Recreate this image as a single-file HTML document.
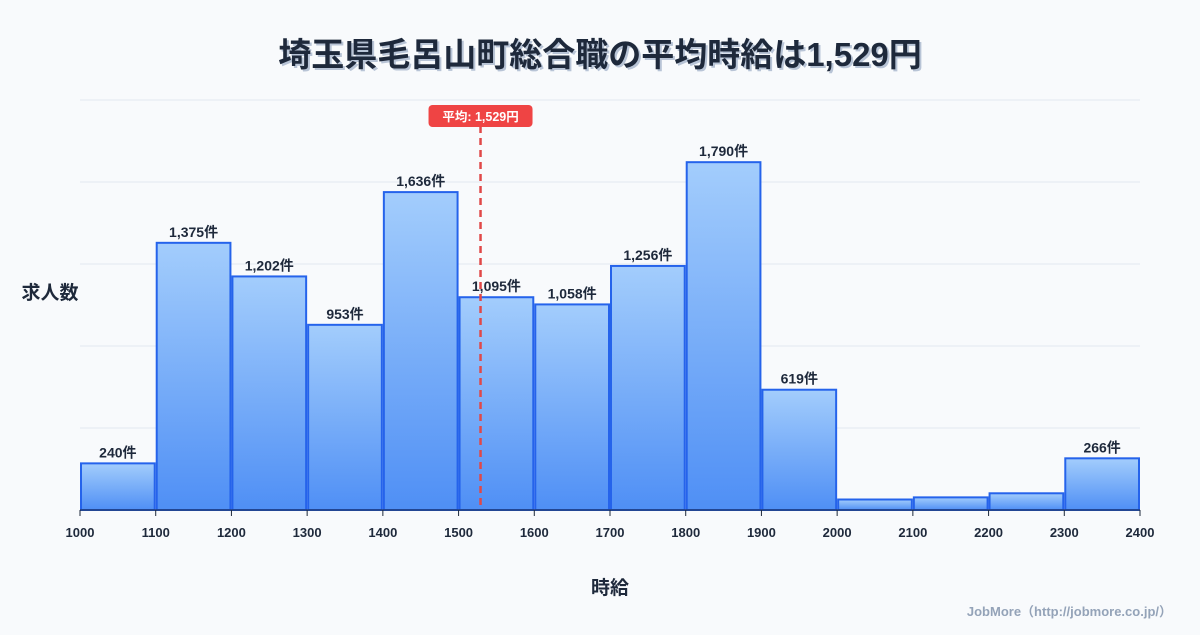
<!DOCTYPE html>
<html><head><meta charset="utf-8"><style>
body{margin:0;width:1200px;height:630px;background:#f8fafc;font-family:"Liberation Sans","Noto Sans CJK JP",sans-serif;overflow:hidden}
</style></head><body>
<svg width="1200" height="630" id="c" xmlns="http://www.w3.org/2000/svg">
<defs><linearGradient id="g" x1="0" y1="0" x2="0" y2="1"><stop offset="0" stop-color="#a3cdfc"/><stop offset="1" stop-color="#4f8ff5"/></linearGradient></defs>
<text x="600" y="66" text-anchor="middle" font-size="33" font-weight="bold" fill="#b8c4d6" font-family="Liberation Sans, Noto Sans CJK JP, sans-serif" transform="translate(2,2)">埼玉県毛呂山町総合職の平均時給は1,529円</text>
<text x="600" y="66" text-anchor="middle" font-size="33" font-weight="bold" fill="#1e293b" font-family="Liberation Sans, Noto Sans CJK JP, sans-serif">埼玉県毛呂山町総合職の平均時給は1,529円</text>
<g id="grid"></g><g id="bars"></g><g id="ticks"></g>
<text x="50" y="299" text-anchor="middle" font-size="19" font-weight="bold" fill="#1e293b">求人数</text>
<text x="610" y="594" text-anchor="middle" font-size="19" font-weight="bold" fill="#1e293b">時給</text>
<text x="1172" y="616" text-anchor="end" font-size="13" font-weight="bold" fill="#94a3b8">JobMore（http://jobmore.co.jp/）</text>
</svg>
<script>
const binStarts=[1000,1100,1200,1300,1400,1500,1600,1700,1800,1900,2000,2100,2200,2300];
const counts=[240,1375,1202,953,1636,1095,1058,1256,1790,619,54,65,86,266];
const showLabel=[true,true,true,true,true,true,true,true,true,true,false,false,false,true];
const xTicks=[1000,1100,1200,1300,1400,1500,1600,1700,1800,1900,2000,2100,2200,2300,2400];
const meanValue=1529;
const X0=80,X1=1140,Y0=510,Y1=100,XMIN=1000,XMAX=2400,YMAX=2110;
const sx=v=>X0+(v-XMIN)/(XMAX-XMIN)*(X1-X0);
const sy=v=>Y0-v/YMAX*(Y0-Y1);
const NS="http://www.w3.org/2000/svg";
function mk(t,a,p){const e=document.createElementNS(NS,t);for(const k in a)e.setAttribute(k,a[k]);p.appendChild(e);return e;}
const grid=document.getElementById('grid'),bars=document.getElementById('bars'),ticks=document.getElementById('ticks');
for(let i=0;i<=5;i++){const y=Y0-i*(Y0-Y1)/5;const l=mk('line',{x1:X0,x2:X1,y1:y,y2:y,stroke:'#e2e8f0','stroke-width':1},grid);

}
binStarts.forEach((b,i)=>{const x=sx(b)+1,w=sx(b+100)-sx(b)-2,y=sy(counts[i]);
const r=mk('rect',{x:x,y:y,width:w,height:Y0-y,fill:'url(#g)',stroke:'#2563eb','stroke-width':2},bars);


if(showLabel[i]){const t=mk('text',{x:x+w/2,y:y-6,'text-anchor':'middle','font-size':14,'font-weight':'bold',fill:'#1e293b'},bars);t.textContent=counts[i].toLocaleString('en-US')+'件';

}});
mk('line',{x1:X0,x2:X1,y1:Y0,y2:Y0,stroke:'#1e293b','stroke-width':1},ticks);
xTicks.forEach(v=>{const x=sx(v);mk('line',{x1:x,x2:x,y1:Y0,y2:Y0+6,stroke:'#1e293b'},ticks);
const t=mk('text',{x:x,y:Y0+27,'text-anchor':'middle','font-size':13,'font-weight':'bold',fill:'#1e293b'},ticks);t.textContent=v;

});
const mx=sx(meanValue);
const ml=mk('line',{x1:mx,x2:mx,y1:126,y2:Y0,stroke:'#e04848','stroke-width':2.5,'stroke-dasharray':'7,5'},ticks);


const mb=mk('rect',{x:mx-52,y:105,width:104,height:22,rx:4,fill:'#ef4444'},ticks);


const mt=mk('text',{x:mx,y:121,'text-anchor':'middle','font-size':12.5,'font-weight':'bold',fill:'#fff'},ticks);mt.textContent='平均: '+meanValue.toLocaleString('en-US')+'円';


</script>
</body></html>
